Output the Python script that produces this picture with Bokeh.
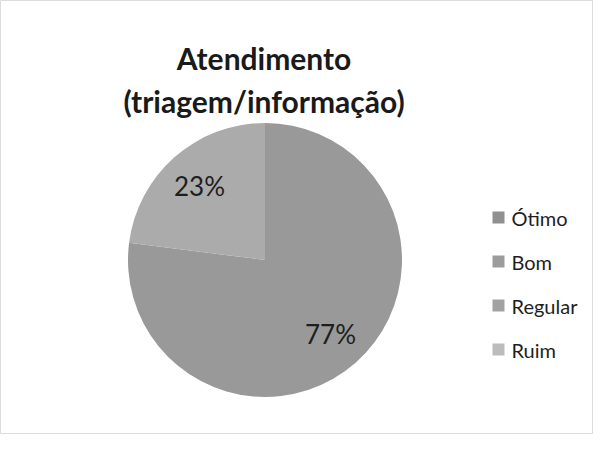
import math
from bokeh.plotting import figure
from bokeh.models import Range1d, ColumnDataSource
from bokeh.core.properties import value
from bokeh.embed import file_html
from bokeh.resources import INLINE

# ---- data ----
title_lines = ["Atendimento", "(triagem/informação)"]
categories = ["Ótimo", "Bom", "Regular", "Ruim"]
percents = [77, 23, 0, 0]
colors = ["#999999", "#ababab", "#a3a3a3", "#bdbdbd"]
legend_colors = ["#909090", "#9c9c9c", "#a2a2a2", "#bcbcbc"]

W, H = 593, 434
p = figure(width=W, height=H, output_backend="svg", toolbar_location=None,
           x_range=Range1d(0, W), y_range=Range1d(0, H), min_border=0)
p.axis.visible = False
p.grid.visible = False
p.outline_line_color = "#dcdcdc"
p.outline_line_width = 1
p.background_fill_color = "white"

FONT = "Lato"
cx, cy, R = 264.5, 174.5, 137

# wedges: start at 12 o'clock, clockwise (zero slices skipped)
total = sum(percents)
starts, ends, mids, wcolors, wcats = [], [], [], [], []
cum = 0.0
for v, c, k in zip(percents, colors, categories):
    a0 = math.pi / 2 - 2 * math.pi * cum / total
    cum += v
    a1 = math.pi / 2 - 2 * math.pi * cum / total
    if v > 0:
        starts.append(a0)
        ends.append(a1)
        mids.append((a0 + a1) / 2)
        wcolors.append(c)
        wcats.append(k)

src = ColumnDataSource(dict(start=starts, end=ends, color=wcolors, cat=wcats))
p.wedge(x=cx, y=cy, radius=R, radius_units="screen", start_angle="start", end_angle="end",
        direction="clock", fill_color="color", line_color=None, source=src)

# data labels
lab_x, lab_y, lab_t = [], [], []
r_lab = 99
for v, m in zip([v for v in percents if v > 0], mids):
    lab_x.append(cx + r_lab * math.cos(m))
    lab_y.append(cy + r_lab * math.sin(m))
    lab_t.append(f"{v}%")
p.text(x=lab_x, y=lab_y, text=lab_t, text_font=value(FONT), text_font_size="26px",
       text_align="center", text_baseline="middle", text_color="#1e1e1e")

# title
p.text(x=[263.5, 263.5], y=[377, 334], text=title_lines, text_font=value(FONT),
       text_font_style="bold", text_font_size="30px", text_align="center",
       text_baseline="alphabetic", text_color="#1a1a1a")

# legend
lx, ly0, dy = 498, 217, 44
leg_y = [ly0 - i * dy for i in range(len(categories))]
p.scatter(x=[lx] * len(categories), y=leg_y, marker="square", size=12,
          fill_color=legend_colors, line_color=None)
p.text(x=[lx + 13] * len(categories), y=leg_y, text=categories, text_font=value(FONT),
       text_font_size="20px", text_align="left", text_baseline="middle", text_color="#1e1e1e")

open("out.html", "w").write(file_html(p, INLINE))
